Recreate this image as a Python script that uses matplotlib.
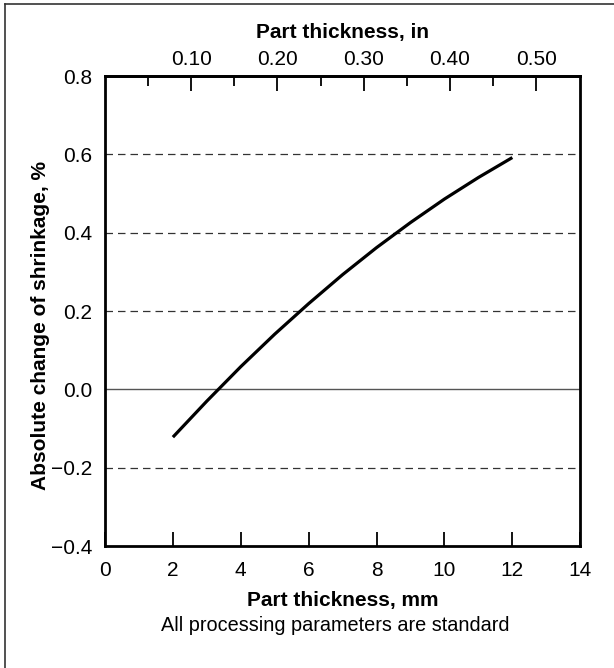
import matplotlib.pyplot as plt
from matplotlib.lines import Line2D
from matplotlib.ticker import FixedLocator

plt.rcParams['font.family'] = ['Liberation Sans', 'DejaVu Sans']

# curve
thickness_mm = [2, 3, 4, 5, 6, 7, 8, 9, 10, 11, 12]
shrink_change = [-0.122, -0.030, 0.058, 0.141, 0.219, 0.293, 0.362, 0.426, 0.486, 0.541, 0.592]

x_ticks = [0, 2, 4, 6, 8, 10, 12, 14]
y_ticks = [-0.4, -0.2, 0.0, 0.2, 0.4, 0.6, 0.8]
y_labels = ['\u22120.4', '\u22120.2', '0.0', '0.2', '0.4', '0.6', '0.8']
in_major = [0.10, 0.20, 0.30, 0.40, 0.50]
in_minor = [0.05, 0.15, 0.25, 0.35, 0.45]
in_labels = ['0.10', '0.20', '0.30', '0.40', '0.50']

fig = plt.figure(figsize=(6.14, 6.68), dpi=100)
ax = fig.add_axes([0.171, 0.1826, 0.774, 0.7035])

# grid lines
for v in [-0.2, 0.2, 0.4, 0.6]:
    ax.axhline(v, color='#333333', lw=0.9, ls=(0, (6, 4)), zorder=1)
ax.axhline(0.0, color='#555555', lw=1.0, zorder=1)

ax.plot(thickness_mm, shrink_change, color='black', lw=2.3, solid_capstyle='butt', zorder=3)

ax.set_xlim(0, 14)
ax.set_ylim(-0.4, 0.8)
ax.set_xticks(x_ticks)
ax.set_yticks(y_ticks)
ax.set_yticklabels(y_labels)
ax.tick_params(axis='x', direction='in', length=10, width=1.3, labelsize=15, pad=11)
ax.tick_params(axis='y', length=0, labelsize=15, pad=9)
for s in ax.spines.values():
    s.set_linewidth(2.0)

ax.set_xlabel('Part thickness, mm', fontsize=15, fontweight='bold')
ax.xaxis.set_label_coords(0.5, -0.095)
ax.set_ylabel('Absolute change of shrinkage, %', fontsize=15, fontweight='bold')
ax.yaxis.set_label_coords(-0.116, 0.47)

top = ax.secondary_xaxis('top', functions=(lambda x: x / 25.4, lambda x: x * 25.4))
top.xaxis.set_major_locator(FixedLocator(in_major))
top.xaxis.set_minor_locator(FixedLocator(in_minor))
top.set_xticklabels(in_labels)
top.tick_params(which='major', direction='in', length=11, width=1.3, labelsize=15, pad=5)
top.tick_params(which='minor', direction='in', length=7, width=1.3)
top.spines['top'].set_linewidth(2.0)
top.set_xlabel('Part thickness, in', fontsize=15, fontweight='bold', labelpad=9)

fig.text(0.546, 0.064, 'All processing parameters are standard', ha='center', va='center', fontsize=14.3)

# partial outer frame
fig.add_artist(Line2D([0.008, 0.008], [0.0, 0.994], color='#333333', lw=1.2, transform=fig.transFigure))
fig.add_artist(Line2D([0.008, 1.0], [0.994, 0.994], color='#333333', lw=1.2, transform=fig.transFigure))

fig.savefig('out.png', dpi=100)
